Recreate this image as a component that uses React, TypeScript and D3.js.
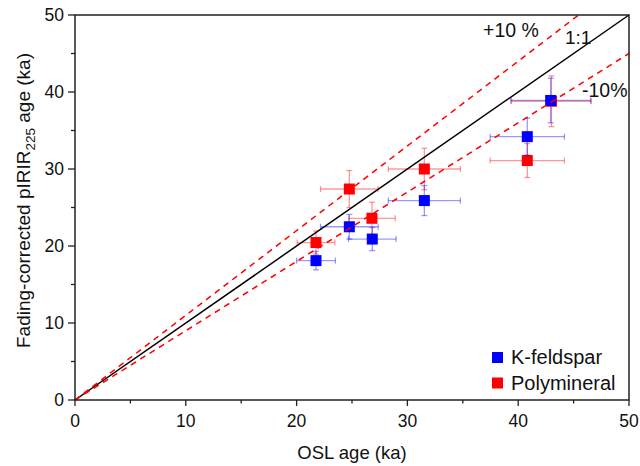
import React from "react";
import * as d3 from "d3";

// OSL ages (ka) with 1σ uncertainty
const kfOsl = [21.75, 24.76, 26.83, 31.53, 40.82, 42.93];
const kfOslErr = [1.75, 2.6, 2.15, 3.25, 3.35, 3.6];
// Fading-corrected pIRIR225 ages (ka)
const kfIr = [18.1, 22.5, 20.9, 25.9, 34.2, 38.9];
const kfIrErr = [1.2, 1.6, 1.5, 1.95, 2.4, 2.9];

const polyOsl = [21.75, 24.76, 26.8, 31.53, 40.82, 43.0];
const polyOslErr = [1.7, 2.6, 2.1, 3.25, 3.35, 3.6];
const polyIr = [20.45, 27.4, 23.6, 30.0, 31.1, 38.8];
const polyIrErr = [1.5, 2.4, 2.1, 2.7, 2.2, 3.3];

const majorTicks = [0, 10, 20, 30, 40, 50];
const minorTicks = [5, 15, 25, 35, 45];

// reference lines: slope multipliers
const refSlopes = [1.1, 0.9];

const W = 640;
const H = 466;
const left = 75;
const right = 629;
const top = 15;
const bottom = 400;
const font = "Arial, 'Liberation Sans', sans-serif";

type Series = {
  name: string;
  color: string;
  x: number[];
  xe: number[];
  y: number[];
  ye: number[];
};

const kf: Series = { name: "K-feldspar", color: "#0000ff", x: kfOsl, xe: kfOslErr, y: kfIr, ye: kfIrErr };
const poly: Series = { name: "Polymineral", color: "#ff0000", x: polyOsl, xe: polyOslErr, y: polyIr, ye: polyIrErr };

export default function App() {
  const x = d3.scaleLinear().domain([0, 50]).range([left, right]);
  const y = d3.scaleLinear().domain([0, 50]).range([bottom, top]);
  const cap = 3;
  const msz = 11;

  const drawSeries = (s: Series) => (
    <g key={s.name}>
      {s.x.map((xv, i) => {
        const cx = x(xv);
        const cy = y(s.y[i]);
        const x0 = x(xv - s.xe[i]);
        const x1 = x(xv + s.xe[i]);
        const y0 = y(s.y[i] - s.ye[i]);
        const y1 = y(s.y[i] + s.ye[i]);
        return (
          <g key={i} stroke={s.color} strokeOpacity={0.4} strokeWidth={1.3} fill="none">
            <line x1={x0} x2={x1} y1={cy} y2={cy} />
            <line x1={x0} x2={x0} y1={cy - cap} y2={cy + cap} />
            <line x1={x1} x2={x1} y1={cy - cap} y2={cy + cap} />
            <line x1={cx} x2={cx} y1={y0} y2={y1} />
            <line x1={cx - cap} x2={cx + cap} y1={y0} y2={y0} />
            <line x1={cx - cap} x2={cx + cap} y1={y1} y2={y1} />
          </g>
        );
      })}
      {s.x.map((xv, i) => (
        <rect
          key={"m" + i}
          x={x(xv) - msz / 2}
          y={y(s.y[i]) - msz / 2}
          width={msz}
          height={msz}
          fill={s.color}
        />
      ))}
    </g>
  );

  const refLine = (k: number) => {
    const xEnd = Math.min(50, 50 / k);
    return (
      <line
        key={k}
        x1={x(0)}
        y1={y(0)}
        x2={x(xEnd)}
        y2={y(xEnd * k)}
        stroke="#ff0000"
        strokeWidth={1.5}
        strokeDasharray="6,5"
      />
    );
  };

  return (
    <svg width={W} height={H} style={{ position: "absolute", left: 0, top: 0 }} fontFamily={font}>
      <rect width={W} height={H} fill="#fff" />
      {drawSeries(poly)}
      {drawSeries(kf)}
      <line x1={x(0)} y1={y(0)} x2={x(50)} y2={y(50)} stroke="#000" strokeWidth={1.5} />
      {refSlopes.map(refLine)}

      {/* frame */}
      <rect x={left} y={top} width={right - left} height={bottom - top} fill="none" stroke="#222" strokeWidth={1.5} />

      {/* x axis ticks */}
      {majorTicks.map((t) => (
        <g key={"xt" + t}>
          <line x1={x(t)} x2={x(t)} y1={bottom} y2={bottom + 6} stroke="#222" strokeWidth={1.3} />
          <text x={x(t)} y={427} textAnchor="middle" fontSize={17.5} fill="#111">
            {t}
          </text>
        </g>
      ))}
      {minorTicks.map((t) => (
        <line key={"xm" + t} x1={x(t)} x2={x(t)} y1={bottom} y2={bottom + 3.5} stroke="#222" strokeWidth={1.3} />
      ))}

      {/* y axis ticks */}
      {majorTicks.map((t) => (
        <g key={"yt" + t}>
          <line x1={left - 7} x2={left} y1={y(t)} y2={y(t)} stroke="#222" strokeWidth={1.3} />
          <text x={64} y={y(t) + 6} textAnchor="end" fontSize={17.5} fill="#111">
            {t}
          </text>
        </g>
      ))}
      {minorTicks.map((t) => (
        <line key={"ym" + t} x1={left - 4} x2={left} y1={y(t)} y2={y(t)} stroke="#222" strokeWidth={1.3} />
      ))}

      {/* axis titles */}
      <text x={(left + right) / 2} y={459} textAnchor="middle" fontSize={18.5} fill="#111">
        OSL age (ka)
      </text>
      <text transform={`translate(30,${(top + bottom) / 2 - 7}) rotate(-90)`} textAnchor="middle" fontSize={19} fill="#111">
        Fading-corrected pIRIR
        <tspan fontSize={13.5} dy={5}>225</tspan>
        <tspan dy={-5}> age (ka)</tspan>
      </text>

      {/* line labels */}
      <text x={483} y={37} fontSize={19.5} fill="#111">+10 %</text>
      <text x={565} y={44} fontSize={19} fill="#111">1:1</text>
      <text x={582} y={97} fontSize={19.5} fill="#111">-10%</text>

      {/* legend */}
      {[kf, poly].map((s, i) => (
        <g key={"lg" + s.name}>
          <rect x={492} y={352 + i * 25.5} width={11} height={11} fill={s.color} />
          <text x={511} y={364 + i * 25.5} fontSize={20} fill="#111">
            {s.name}
          </text>
        </g>
      ))}
    </svg>
  );
}
